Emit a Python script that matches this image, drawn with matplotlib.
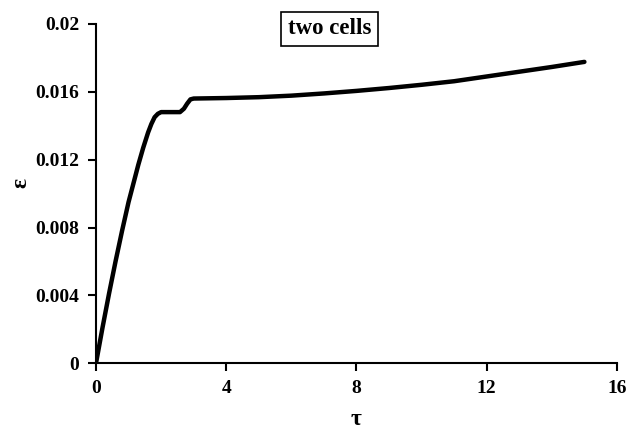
import matplotlib
matplotlib.use("Agg")
import matplotlib.pyplot as plt

tau = [0, 0.2, 0.4, 0.6, 0.8, 1.0, 1.15, 1.3, 1.45, 1.6, 1.7, 1.8, 1.9, 2.0,
       2.58, 2.7, 2.8, 2.9, 3.0,
       4, 5, 6, 7, 8, 9, 10, 11, 12, 13, 14, 15]
eps = [0, 0.0021, 0.0041, 0.0060, 0.0078, 0.0095, 0.0106, 0.0117, 0.0127, 0.0136, 0.0141, 0.0145, 0.0147, 0.0148,
       0.0148, 0.0150, 0.0153, 0.01555, 0.0156,
       0.01563, 0.01568, 0.01577, 0.01590, 0.01605, 0.01622, 0.01641, 0.01662, 0.01690, 0.01718, 0.01746, 0.01776]

xticks = [0, 4, 8, 12, 16]
xticklabels = ["0", "4", "8", "12", "16"]
yticks = [0, 0.004, 0.008, 0.012, 0.016, 0.02]
yticklabels = ["0", "0.004", "0.008", "0.012", "0.016", "0.02"]

plt.rcParams['font.family'] = ['Liberation Serif', 'DejaVu Serif']
fig = plt.figure(figsize=(6.4, 4.34), dpi=100)
ax = fig.add_axes([0.150, 0.163, 0.814, 0.782])
ax.plot(tau, eps, color='black', lw=3.2, solid_capstyle='round', solid_joinstyle='round')
ax.set_xlim(0, 16)
ax.set_ylim(0, 0.02)
ax.set_xticks(xticks)
ax.set_xticklabels(xticklabels, fontsize=14, fontweight='bold')
ax.set_yticks(yticks)
ax.set_yticklabels(yticklabels, fontsize=14, fontweight='bold')
for s in ['top', 'right']:
    ax.spines[s].set_visible(False)
for s in ['left', 'bottom']:
    ax.spines[s].set_linewidth(1.5)
ax.tick_params(direction='out', length=6, width=1.5, pad=6)
ax.set_xlabel('τ', fontsize=17, fontweight='bold')
ax.set_ylabel('ε', fontsize=17, fontweight='bold')
ax.xaxis.set_label_coords(0.5, -0.135)
ax.yaxis.set_label_coords(-0.125, 0.53)
ax.text(0.449, 0.985, 'two cells', transform=ax.transAxes, ha='center', va='center',
        fontsize=16.5, fontweight='bold',
        bbox=dict(boxstyle='square,pad=0.3', facecolor='white', edgecolor='black', lw=1.2))
fig.savefig('out.png', dpi=100)
